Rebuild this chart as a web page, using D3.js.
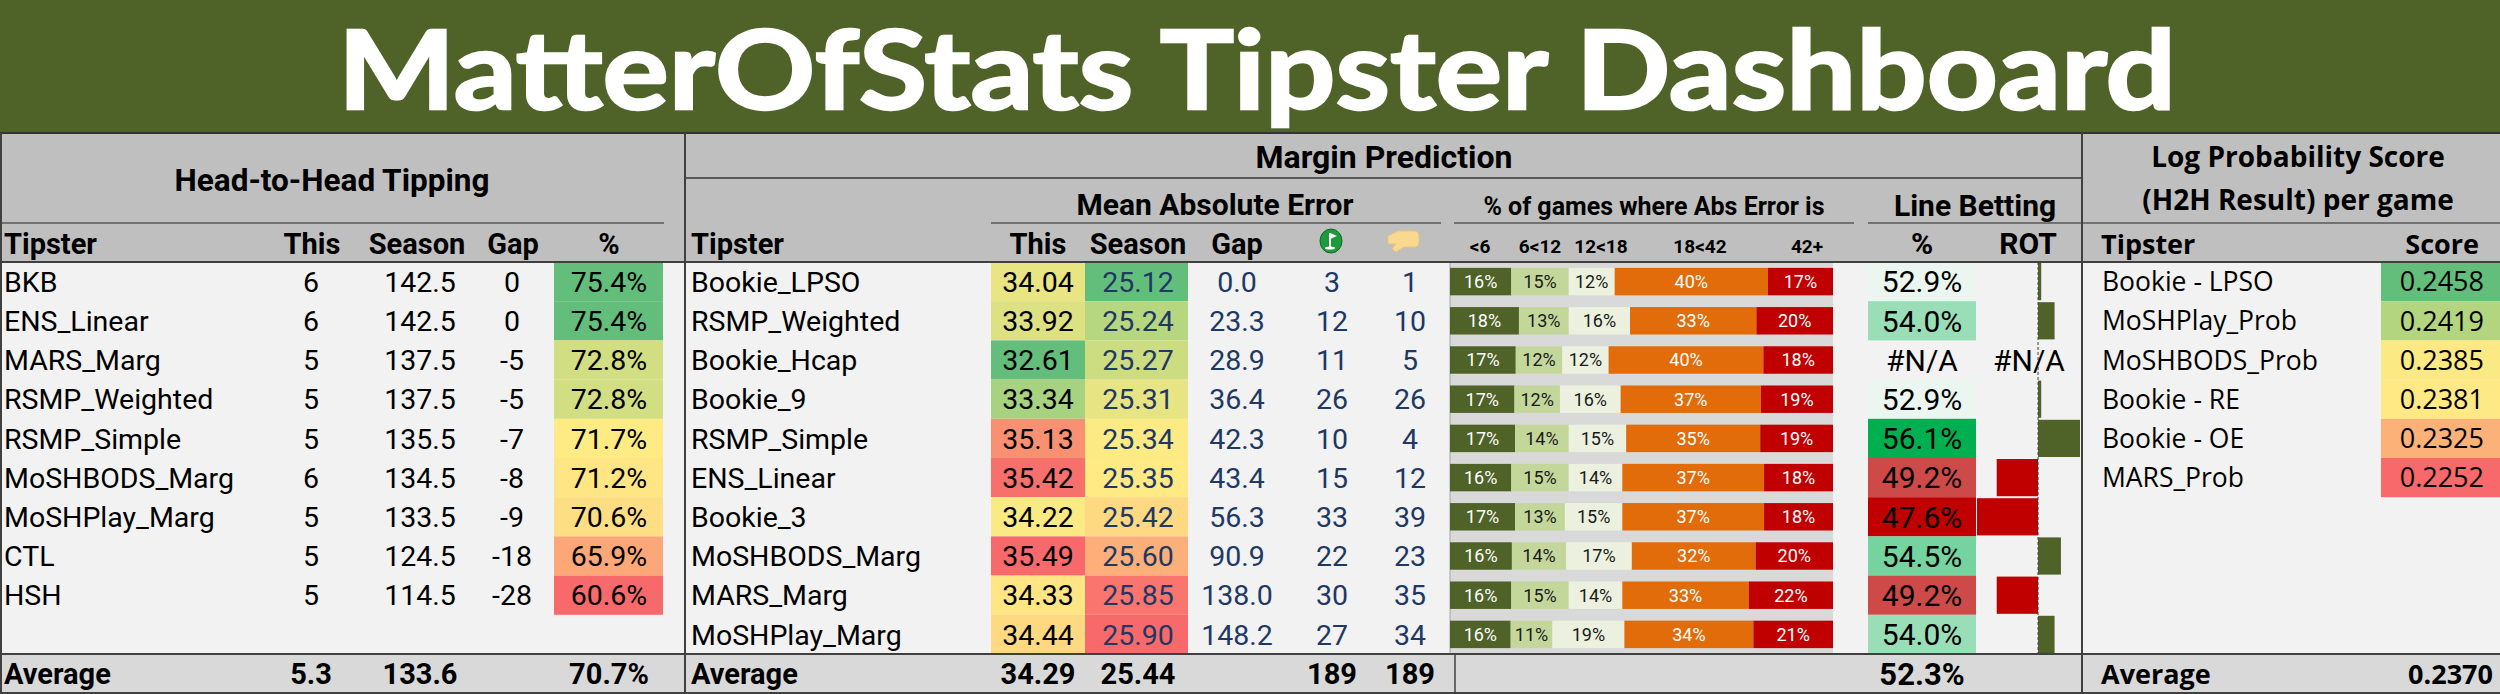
<!DOCTYPE html>
<html>
<head>
<meta charset="utf-8">
<script src="https://cdn.jsdelivr.net/npm/d3@7"></script>
<style>
  body { margin: 0; background: #fff; }
  svg { display: block; }
</style>
</head>
<body>
<svg id="chart"></svg>
<script>
const TITLE = "MatterOfStats Tipster Dashboard";

// Head-to-Head Tipping
const h2hTipsters = ["BKB", "ENS_Linear", "MARS_Marg", "RSMP_Weighted", "RSMP_Simple",
  "MoSHBODS_Marg", "MoSHPlay_Marg", "CTL", "HSH"];
const h2hThis = [6, 6, 5, 5, 5, 6, 5, 5, 5];
const h2hSeason = [142.5, 142.5, 137.5, 137.5, 135.5, 134.5, 133.5, 124.5, 114.5];
const h2hGap = [0, 0, -5, -5, -7, -8, -9, -18, -28];
const h2hPct = [75.4, 75.4, 72.8, 72.8, 71.7, 71.2, 70.6, 65.9, 60.6];
const h2hAverage = ["5.3", "133.6", "70.7%"];

// Margin Prediction
const marTipsters = ["Bookie_LPSO", "RSMP_Weighted", "Bookie_Hcap", "Bookie_9", "RSMP_Simple",
  "ENS_Linear", "Bookie_3", "MoSHBODS_Marg", "MARS_Marg", "MoSHPlay_Marg"];
const maeThis = [34.04, 33.92, 32.61, 33.34, 35.13, 35.42, 34.22, 35.49, 34.33, 34.44];
const maeSeason = [25.12, 25.24, 25.27, 25.31, 25.34, 25.35, 25.42, 25.60, 25.85, 25.90];
const maeGap = [0.0, 23.3, 28.9, 36.4, 42.3, 43.4, 56.3, 90.9, 138.0, 148.2];
const bestCount = [3, 12, 11, 26, 10, 15, 33, 22, 30, 27];
const worstCount = [1, 10, 5, 26, 4, 12, 39, 23, 35, 34];
const errBands = ["<6", "6<12", "12<18", "18<42", "42+"];
const errPct = [
  [16, 15, 12, 40, 17],
  [18, 13, 16, 33, 20],
  [17, 12, 12, 40, 18],
  [17, 12, 16, 37, 19],
  [17, 14, 15, 35, 19],
  [16, 15, 14, 37, 18],
  [17, 13, 15, 37, 18],
  [16, 14, 17, 32, 20],
  [16, 15, 14, 33, 22],
  [16, 11, 19, 34, 21]
];
const linePct = [52.9, 54.0, null, 52.9, 56.1, 49.2, 47.6, 54.5, 49.2, 54.0];
const lineRot = [0.5, 2.6, null, 0.5, 6.6, -6.5, -9.6, 3.6, -6.5, 2.6];
const marAverage = ["34.29", "25.44", "189", "189", "52.3%"];

// Log Probability Score
const lpsTipsters = ["Bookie - LPSO", "MoSHPlay_Prob", "MoSHBODS_Prob", "Bookie - RE", "Bookie - OE", "MARS_Prob"];
const lpsScore = [0.2458, 0.2419, 0.2385, 0.2381, 0.2325, 0.2252];
const lpsAverage = "0.2370";

const W = 2500, H = 694,
  TITLE_H = 133, TOP = 262, BOT = 654,
  NARROW = "Roboto, 'Liberation Sans', sans-serif",
  WIDE = "'Open Sans', 'Noto Sans', sans-serif",
  HEAD = "Lato, 'Open Sans', sans-serif",
  GREEN = "#4F6228", NAVY = "#203864",
  RED3 = "#F8696B", YEL3 = "#FFEB84", GRN3 = "#63BE7B";

const svg = d3.select("#chart").attr("width", W).attr("height", H);

const rowY = d3.scaleBand().domain(d3.range(10)).range([TOP, BOT]);
const barY = d3.scaleBand().domain(d3.range(10)).range([TOP, BOT]).paddingInner(0.3).paddingOuter(0.15);
const midY = i => rowY(i) + rowY.bandwidth() / 2;

function label(x, y, s, o) {
  o = o || {};
  return svg.append("text")
    .attr("x", x).attr("y", y)
    .attr("text-anchor", o.anchor || "start")
    .attr("font-family", o.font || NARROW)
    .attr("font-size", o.size || 29)
    .attr("font-weight", o.bold ? "bold" : "normal")
    .attr("fill", o.fill || "#000")
    .text(s);
}

function column(values, x, o) {
  o = o || {};
  return svg.append("g").selectAll("text").data(values).join("text")
    .attr("x", x).attr("y", (d, i) => midY(i)).attr("dy", "0.36em")
    .attr("text-anchor", o.anchor || "middle")
    .attr("font-family", o.font || NARROW)
    .attr("font-size", o.size || 28.5)
    .attr("fill", o.fill || "#000")
    .text(o.fmt || (d => d));
}

function cells(values, x0, x1, color) {
  return svg.append("g").selectAll("rect").data(values).join("rect")
    .attr("x", x0).attr("width", x1 - x0)
    .attr("y", (d, i) => rowY(i)).attr("height", rowY.bandwidth())
    .attr("fill", d => d == null ? "none" : color(d));
}

function scale3(values, colors) {
  return d3.scaleLinear()
    .domain([d3.min(values), d3.median(values), d3.max(values)])
    .range(colors);
}

function hline(x0, x1, y, c, w) {
  svg.append("line").attr("x1", x0).attr("x2", x1).attr("y1", y).attr("y2", y)
    .attr("stroke", c || "#595959").attr("stroke-width", w || 1.5);
}
function vline(x, y0, y1, c, w) {
  svg.append("line").attr("x1", x).attr("x2", x).attr("y1", y0).attr("y2", y1)
    .attr("stroke", c || "#404040").attr("stroke-width", w || 2);
}

// backgrounds
svg.append("rect").attr("width", W).attr("height", TITLE_H).attr("fill", GREEN);
svg.append("rect").attr("y", TITLE_H).attr("width", W).attr("height", TOP - TITLE_H).attr("fill", "#BFBFBF");
svg.append("rect").attr("y", TOP).attr("width", W).attr("height", BOT - TOP).attr("fill", "#F2F2F2");
svg.append("rect").attr("y", BOT).attr("width", W).attr("height", H - BOT).attr("fill", "#D9D9D9");

// title (kept inside the band so the ascent box does not leave the page)
label(1257, 108.5, TITLE, { anchor: "middle", font: HEAD, size: 110, bold: true, fill: "#fff" })
  .attr("stroke", "#fff").attr("stroke-width", 2.4)
  .attr("textLength", 1838).attr("lengthAdjust", "spacingAndGlyphs");

// ---------- Head-to-Head ----------
label(332, 191, "Head-to-Head Tipping", { anchor: "middle", size: 31.5, bold: true });
hline(0, 664, 223);
label(4, 254, "Tipster", { bold: true });
label(312, 254, "This", { anchor: "middle", bold: true });
label(417, 254, "Season", { anchor: "middle", bold: true });
label(513, 254, "Gap", { anchor: "middle", bold: true });
label(609, 254, "%", { anchor: "middle", bold: true });

cells(h2hPct, 554, 663, scale3(h2hPct, [RED3, YEL3, GRN3]));
column(h2hTipsters, 4, { anchor: "start" });
column(h2hThis, 311);
column(h2hSeason, 420, { fmt: d => d.toFixed(1) });
column(h2hGap, 512);
column(h2hPct, 609, { fmt: d => d.toFixed(1) + "%" });

label(4, BOT + 30, "Average", { size: 29, bold: true });
[311, 420, 609].forEach((x, k) => label(x, BOT + 30, h2hAverage[k], { anchor: "middle", size: 29, bold: true }));

// ---------- Margin Prediction ----------
label(1384, 168, "Margin Prediction", { anchor: "middle", size: 32, bold: true });
hline(685, 2082, 178, "#595959", 2);
label(1215, 215, "Mean Absolute Error", { anchor: "middle", size: 30, bold: true });
hline(991, 1441, 223);
label(1654, 215, "% of games where Abs Error is", { anchor: "middle", size: 25, bold: true });
hline(1454, 1854, 223);
label(1975, 216, "Line Betting", { anchor: "middle", size: 30, bold: true });
hline(1868, 2082, 223);

label(691, 254, "Tipster", { bold: true });
label(1038, 254, "This", { anchor: "middle", bold: true });
label(1138, 254, "Season", { anchor: "middle", bold: true });
label(1237, 254, "Gap", { anchor: "middle", bold: true });
[1480, 1540, 1601, 1700, 1807].forEach((x, k) => label(x, 253, errBands[k], { anchor: "middle", size: 19, bold: true }));
label(1922, 254, "%", { anchor: "middle", size: 30, bold: true });
label(2028, 254, "ROT", { anchor: "middle", size: 30, bold: true });

// header icons: best-of-round (golf flag) and worst-of-round (hand)
const golf = svg.append("g").attr("transform", "translate(1331,241)");
golf.append("ellipse").attr("rx", 11).attr("ry", 12).attr("fill", "#1E9A3C").attr("stroke", "#0F6B25");
golf.append("line").attr("x1", -1).attr("x2", -1).attr("y1", -8).attr("y2", 7).attr("stroke", "#fff").attr("stroke-width", 2);
golf.append("path").attr("d", "M-1,-8 L6,-5 L-1,-2 Z").attr("fill", "#fff");
golf.append("ellipse").attr("cx", -1).attr("cy", 7).attr("rx", 5).attr("ry", 1.5).attr("fill", "#fff");

svg.append("path").attr("transform", "translate(1402,241)")
  .attr("d", "M-14,-5 L-4,-10 L12,-10 Q17,-10 17,-5 L17,1 Q17,6 12,6 L2,6 L-6,11 L-10,8 L-6,3 L-14,3 Z")
  .attr("fill", "#F9D890").attr("stroke", "#EBC577").attr("stroke-width", 1);

cells(maeThis, 991, 1085, scale3(maeThis, [GRN3, YEL3, RED3]));
cells(maeSeason, 1085, 1188, scale3(maeSeason, [GRN3, YEL3, RED3]));
column(marTipsters, 691, { anchor: "start" });
column(maeThis, 1038, { fmt: d => d.toFixed(2) });
column(maeSeason, 1138, { fmt: d => d.toFixed(2), fill: NAVY });
column(maeGap, 1237, { fmt: d => d.toFixed(1), fill: NAVY });
column(bestCount, 1332, { fill: NAVY });
column(worstCount, 1410, { fill: NAVY });

// abs error distribution (stacked to 100%)
const ex = d3.scaleLinear().domain([0, 1]).range([1450, 1833]);
const bandFill = ["#4F6228", "#C4D79B", "#EBF1DE", "#E26B0A", "#C00000"];
const bandInk = ["#fff", "#1a1a1a", "#1a1a1a", "#fff", "#fff"];
svg.append("rect").attr("x", ex(0)).attr("y", TOP).attr("width", ex(1) - ex(0)).attr("height", BOT - TOP)
  .attr("fill", "#D9D9D9");
vline(ex(0), TOP, BOT, "#A6A6A6", 1);
const errRows = errPct.map(r => Object.fromEntries(r.map((v, k) => [k, v])));
const layers = d3.stack().keys(d3.range(errBands.length)).offset(d3.stackOffsetExpand)(errRows);
const lg = svg.append("g").selectAll("g").data(layers).join("g");
lg.selectAll("rect").data(d => d).join("rect")
  .attr("x", d => ex(d[0])).attr("width", d => ex(d[1]) - ex(d[0]))
  .attr("y", (d, i) => barY(i)).attr("height", barY.bandwidth())
  .attr("fill", function () { return bandFill[d3.select(this.parentNode).datum().key]; });
lg.selectAll("text").data(d => d.map(p => ({ p, key: d.key }))).join("text")
  .attr("x", d => ex((d.p[0] + d.p[1]) / 2)).attr("y", (d, i) => barY(i) + barY.bandwidth() / 2)
  .attr("dy", "0.36em").attr("text-anchor", "middle")
  .attr("font-family", NARROW).attr("font-size", 18)
  .attr("fill", d => bandInk[d.key])
  .text(d => d.p.data[d.key] + "%");

// line betting
const lbColor = scale3(linePct.filter(v => v != null), ["#C00000", "#EAF6EF", "#00B050"]);
cells(linePct, 1868, 1976, lbColor);
column(linePct, 1922, { size: 30, fmt: d => d == null ? "#N/A" : d.toFixed(1) + "%" });

const rot = lineRot.filter(v => v != null);
const rx = d3.scaleLinear().domain(d3.extent(rot)).range([1977, 2080]);
svg.append("g").selectAll("rect").data(lineRot).join("rect")
  .attr("x", d => d == null ? 0 : rx(Math.min(0, d)))
  .attr("width", d => d == null ? 0 : Math.abs(rx(d) - rx(0)))
  .attr("y", (d, i) => rowY(i) + 1).attr("height", rowY.bandwidth() - 2)
  .attr("fill", d => d >= 0 ? GREEN : "#C00000");
svg.append("line").attr("x1", rx(0)).attr("x2", rx(0)).attr("y1", TOP).attr("y2", BOT)
  .attr("stroke", "#404040").attr("stroke-width", 1).attr("stroke-dasharray", "3,2");
column(lineRot.map(v => v == null ? "#N/A" : ""), 2029, { size: 30 });

label(691, BOT + 30, "Average", { size: 29, bold: true });
[1038, 1138, 1332, 1410].forEach((x, k) => label(x, BOT + 30, marAverage[k], { anchor: "middle", size: 29, bold: true }));
label(1922, BOT + 31, marAverage[4], { anchor: "middle", size: 31, bold: true });
vline(1455, BOT, H, "#404040", 1.5);

// ---------- Log Probability Score ----------
label(2298, 167, "Log Probability Score", { anchor: "middle", font: WIDE, size: 28, bold: true });
label(2298, 210, "(H2H Result) per game", { anchor: "middle", font: WIDE, size: 28, bold: true });
hline(2082, W, 223);
label(2101, 254, "Tipster", { font: WIDE, size: 27, bold: true });
label(2479, 254, "Score", { anchor: "end", font: WIDE, size: 27, bold: true });

cells(lpsScore, 2381, W, scale3(lpsScore, [RED3, YEL3, GRN3]));
column(lpsTipsters, 2102, { anchor: "start", font: WIDE, size: 26.5 });
column(lpsScore, 2484, { anchor: "end", font: WIDE, size: 27, fmt: d => d.toFixed(4) });
label(2101, BOT + 30, "Average", { font: WIDE, size: 27, bold: true });
label(2493, BOT + 30, lpsAverage, { anchor: "end", font: WIDE, size: 27, bold: true });

// frame lines
hline(0, W, TITLE_H, "#333", 2);
hline(0, W, TOP, "#404040", 2);
hline(0, W, BOT, "#404040", 2);
hline(0, W, H - 1, "#404040", 2);
vline(685, TITLE_H, H);
vline(2082, TITLE_H, H);
vline(1, TITLE_H, H, "#404040", 2);
</script>
</body>
</html>
